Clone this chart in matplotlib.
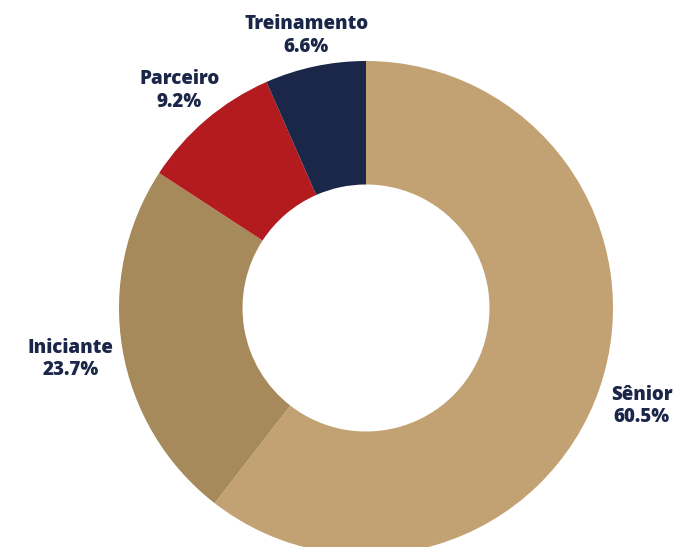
import matplotlib
matplotlib.use("Agg")
import matplotlib.pyplot as plt
from matplotlib import font_manager as fm
import numpy as np

categories = ["Sênior", "Iniciante", "Parceiro", "Treinamento"]
values = [60.5, 23.7, 9.2, 6.6]
colors = ["#C2A273", "#A68A5B", "#B31B1F", "#1B2748"]
text_color = "#1B2748"

W, H = 678, 547
cx, cy = 366, 308
R = 247

# pick a non-condensed heavy Open Sans file if available
cands = [f for f in fm.fontManager.ttflist
         if f.name == "Open Sans" and "ondensed" not in f.fname
         and "talic" not in f.fname and f.style == "normal"]
fp = None
if cands:
    def score(f):
        w = f.weight if isinstance(f.weight, int) else 400
        return -abs(w - 800)
    best = max(cands, key=score)
    fp = fm.FontProperties(fname=best.fname, size=13.5)
else:
    fp = fm.FontProperties(family="DejaVu Sans", weight="bold", size=11)

fig = plt.figure(figsize=(W / 100, H / 100), dpi=100)
ax = fig.add_axes([0, 0, 1, 1])

wedges, _ = ax.pie(values, colors=colors, startangle=90, counterclock=False,
                   radius=R, wedgeprops=dict(width=R * 0.5, linewidth=0),
                   center=(0, 0), frame=True)
ax.set_xlim(-cx, W - cx)
ax.set_ylim(-(H - cy), cy)
ax.axis("off")

# label distance factors and angle tweaks (layout)
dist = [1.185, 1.215, 1.16, 1.13]
dang = [-0.6, 0.3, 0.3, 0.5]
for w, lab, v, d, da in zip(wedges, categories, values, dist, dang):
    ang = np.deg2rad((w.theta1 + w.theta2) / 2 + da)
    x = R * d * np.cos(ang)
    y = R * d * np.sin(ang)
    ax.text(x, y, f"{lab}\n{v:.1f}%", ha="center", va="center",
            fontproperties=fp, color=text_color, linespacing=1.15)

fig.savefig("out.png", dpi=100)
